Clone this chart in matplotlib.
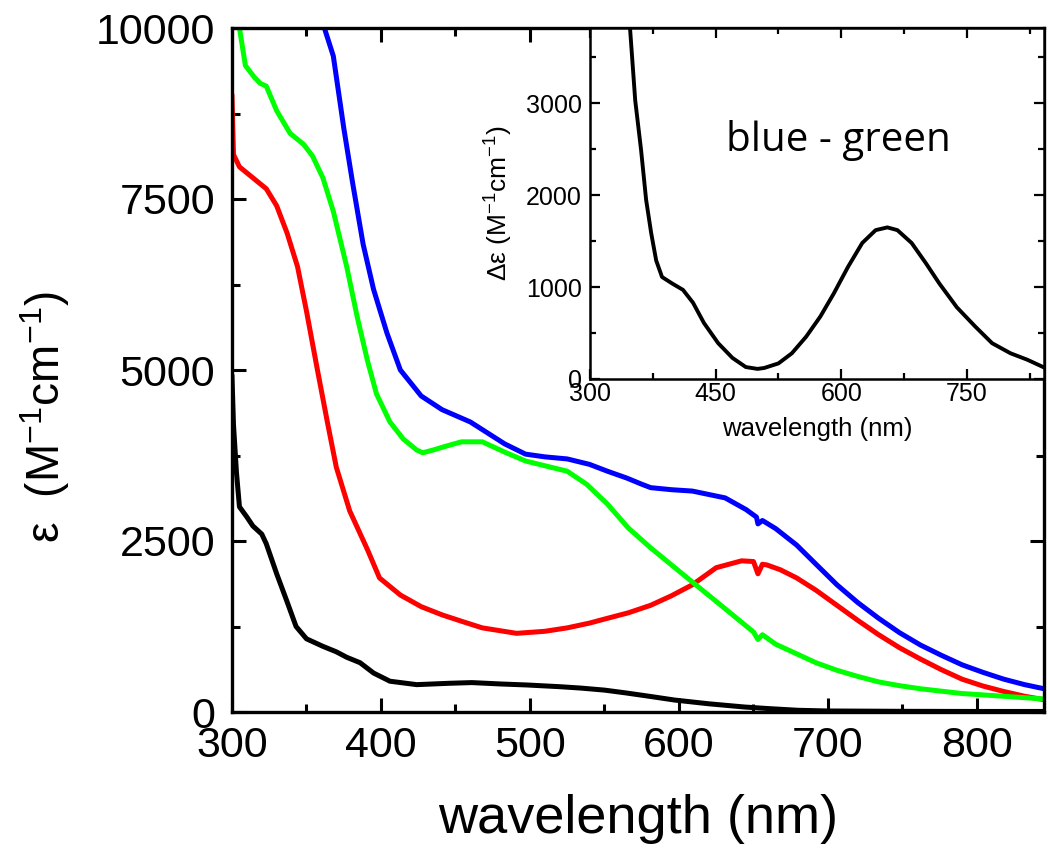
import matplotlib
matplotlib.use("Agg")
import matplotlib.pyplot as plt
from matplotlib.ticker import MultipleLocator

plt.rcParams['font.family'] = ['Liberation Sans', 'DejaVu Sans']
plt.rcParams['mathtext.fontset'] = 'custom'
plt.rcParams['mathtext.rm'] = 'Liberation Sans'
plt.rcParams['mathtext.it'] = 'Liberation Sans:italic'
plt.rcParams['mathtext.default'] = 'regular'

# ---- main panel data (wavelength nm, epsilon M^-1 cm^-1) ----
black_wl = [300, 301, 303, 305, 310, 314, 320, 323, 330, 337, 343, 350, 361, 370, 377, 386,
            395, 406, 424, 446, 461, 480, 498, 520, 534, 550, 564, 580, 597, 620, 644, 660,
            680, 700, 750, 800, 845]
black_eps = [4900, 4200, 3500, 3000, 2850, 2720, 2600, 2460, 2020, 1610, 1250, 1070, 960, 880,
             800, 720, 570, 450, 400, 420, 430, 410, 395, 370, 350, 320, 280, 230, 175, 120,
             73, 50, 25, 15, 10, 8, 8]

red_wl = [300, 301, 305, 314, 323, 330, 337, 344, 350, 357, 364, 370, 379, 391, 399, 413,
          427, 441, 455, 468, 491, 510, 525, 540, 552, 566, 581, 595, 609, 625, 642, 650,
          653, 656, 659, 668, 679, 692, 706, 720, 734, 748, 762, 776, 790, 804, 818, 832, 845]
red_eps = [9000, 8150, 7970, 7810, 7650, 7400, 7000, 6510, 5860, 5040, 4240, 3580, 2940, 2370,
           1960, 1710, 1540, 1420, 1320, 1230, 1150, 1180, 1230, 1300, 1370, 1450, 1560, 1700,
           1860, 2110, 2210, 2200, 2020, 2160, 2150, 2080, 1960, 1780, 1560, 1340, 1130, 940,
           775, 620, 480, 380, 300, 230, 180]

blue_wl = [362, 368, 375, 381, 388, 395, 404, 413, 427, 441, 460, 483, 497, 510, 525, 540,
           552, 565, 575, 581, 595, 609, 620, 631, 645, 652, 653, 656, 665, 679, 692, 706,
           720, 734, 748, 762, 776, 790, 804, 818, 832, 845]
blue_eps = [10000, 9590, 8540, 7730, 6840, 6180, 5540, 5000, 4620, 4420, 4240, 3920, 3770, 3730,
            3700, 3620, 3520, 3420, 3330, 3280, 3250, 3230, 3180, 3130, 2960, 2850, 2750, 2800,
            2680, 2440, 2160, 1860, 1600, 1370, 1160, 980, 830, 690, 580, 480, 400, 340]

green_wl = [305, 309, 315, 319, 323, 330, 339, 348, 354, 361, 368, 377, 384, 391, 397,
            406, 415, 424, 428, 435, 441, 454, 468, 483, 497, 510, 525, 538, 552, 566, 581,
            595, 609, 622, 636, 650, 653, 656, 665, 679, 692, 706, 720, 734, 748, 762, 790,
            818, 845]
green_eps = [10000, 9450, 9280, 9190, 9150, 8790, 8460, 8300, 8130, 7810, 7320, 6510, 5780,
             5130, 4650, 4240, 3990, 3830, 3790, 3830, 3870, 3950, 3950, 3800, 3670, 3600, 3520,
             3330, 3040, 2690, 2400, 2150, 1900, 1670, 1420, 1170, 1060, 1130, 990, 850, 720,
             610, 520, 440, 385, 340, 270, 230, 190]

# ---- inset data (blue - green) ----
diff_wl = [348, 354, 361, 367, 373, 379, 386, 398, 411, 423, 436, 453, 470, 486, 500, 508, 525,
           541, 558, 575, 591, 608, 625, 641, 655, 667, 684, 701, 717, 738, 760, 780, 802, 822, 841]
diff_eps = [3790, 3030, 2490, 1950, 1590, 1290, 1110, 1040, 970, 830, 610, 390, 230, 130, 110,
            120, 170, 280, 460, 680, 930, 1220, 1480, 1620, 1650, 1620, 1480, 1260, 1040, 780,
            570, 390, 280, 210, 130]

W, H = 1050, 868
fig = plt.figure(figsize=(W / 100, H / 100), dpi=100)

# main axes
L, R, B, T = 232, 1044, 712, 28
ax = fig.add_axes([L / W, 1 - B / H, (R - L) / W, (B - T) / H])
lw = 3.6
ax.plot(black_wl, black_eps, color='black', lw=lw)
ax.plot(red_wl, red_eps, color='#ff0000', lw=lw)
ax.plot(blue_wl, blue_eps, color='#0000ff', lw=lw)
ax.plot(green_wl, green_eps, color='#00ff00', lw=lw)
ax.set_xlim(300, 845)
ax.set_ylim(0, 10000)
ax.xaxis.set_major_locator(MultipleLocator(100))
ax.xaxis.set_minor_locator(MultipleLocator(50))
ax.yaxis.set_major_locator(MultipleLocator(2500))
ax.yaxis.set_minor_locator(MultipleLocator(1250))
ax.tick_params(which='both', direction='in', top=True, right=True, width=2.2)
ax.tick_params(which='major', length=10)
ax.tick_params(which='minor', length=6)
ax.tick_params(axis='y', labelsize=31, pad=12)
ax.tick_params(axis='x', labelsize=31, pad=10)
for s in ax.spines.values():
    s.set_linewidth(2.4)
ax.set_xlabel('wavelength (nm)', fontsize=39, labelpad=20)
ax.set_ylabel(r'ε  (M$^{-1}$cm$^{-1}$)', fontsize=33)
ax.yaxis.set_label_coords(-0.197, 0.431)

# inset axes
iL, iR, iB, iT = 590, 1044, 379, 28
ins = fig.add_axes([iL / W, 1 - iB / H, (iR - iL) / W, (iB - iT) / H])
ins.plot(diff_wl, diff_eps, color='black', lw=2.8)
ins.set_xlim(300, 842)
ins.set_ylim(0, 3820)
ins.xaxis.set_major_locator(MultipleLocator(150))
ins.xaxis.set_minor_locator(MultipleLocator(75))
ins.yaxis.set_major_locator(MultipleLocator(1000))
ins.yaxis.set_minor_locator(MultipleLocator(500))
ins.tick_params(which='both', direction='in', top=True, right=True, width=1.6)
ins.tick_params(which='major', length=7)
ins.tick_params(which='minor', length=4)
ins.tick_params(axis='y', labelsize=18, pad=6)
ins.tick_params(axis='x', labelsize=18, pad=2)
for s in ins.spines.values():
    s.set_linewidth(1.8)
ins.set_xlabel('wavelength (nm)', fontsize=18.5, labelpad=8)
ins.set_ylabel(r'Δε (M$^{-1}$cm$^{-1}$)', fontsize=19)
ins.yaxis.set_label_coords(-0.165, 0.5)
ins.text(0.546, 0.68, 'blue - green', transform=ins.transAxes, ha='center', va='center',
         fontsize=29, family=['Open Sans', 'DejaVu Sans'])

fig.savefig('out.png', dpi=100)
